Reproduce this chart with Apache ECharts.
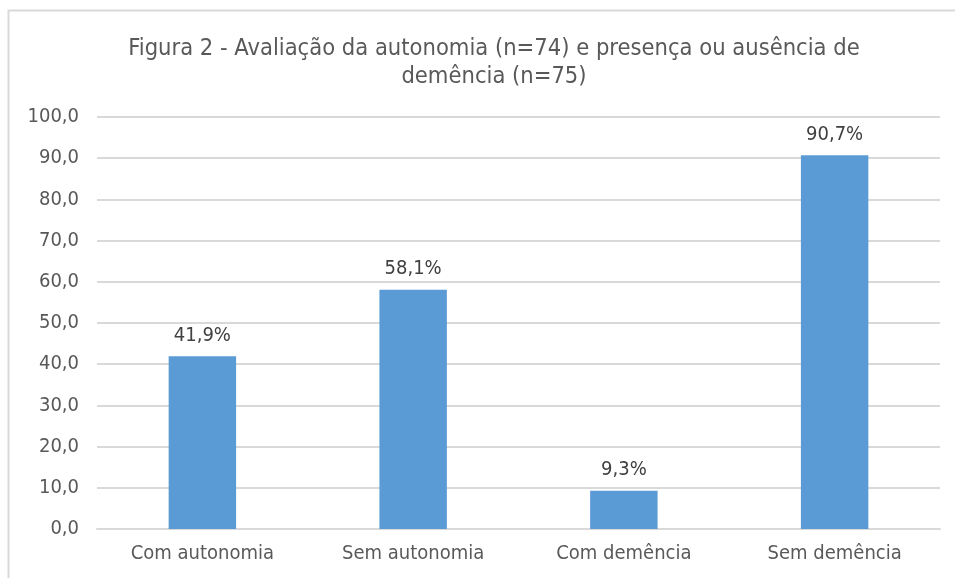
<!DOCTYPE html>
<html>
<head>
<meta charset="utf-8">
<script src="https://cdn.jsdelivr.net/npm/echarts@6/dist/echarts.min.js"></script>
<style>
  html, body { margin: 0; padding: 0; background: #fff; }
  #chart { width: 955px; height: 578px; }
</style>
</head>
<body>
<div id="chart"></div>
<script>
const categories = ['Com autonomia', 'Sem autonomia', 'Com demência', 'Sem demência'];
const values = [41.9, 58.1, 9.3, 90.7];
const titleText = 'Figura 2 - Avaliação da autonomia (n=74) e presença ou ausência de\ndemência (n=75)';

const font = '"DejaVu Sans Condensed", "DejaVu Sans", sans-serif';
const chart = echarts.init(document.getElementById('chart'));

chart.setOption({
  animation: false,
  title: {
    text: titleText,
    left: 489,
    top: 30,
    textAlign: 'center',
    textStyle: { fontFamily: font, fontSize: 23.5, fontWeight: 'normal', color: '#595959', lineHeight: 28 }
  },
  graphic: [{
    type: 'rect',
    shape: { x: 8.5, y: 10.5, width: 960, height: 600 },
    style: { fill: 'none', stroke: '#d9d9d9', lineWidth: 2 },
    silent: true
  }],
  grid: { left: 97, right: 15, top: 117, bottom: 49 },
  xAxis: {
    type: 'category',
    data: categories,
    axisLine: { lineStyle: { color: '#d9d9d9', width: 2 } },
    axisTick: { show: false },
    axisLabel: { fontFamily: font, fontSize: 20, color: '#595959', margin: 15 }
  },
  yAxis: {
    type: 'value',
    min: 0,
    max: 100,
    interval: 10,
    axisLine: { show: false },
    axisTick: { show: false },
    splitLine: { lineStyle: { color: '#d9d9d9', width: 2 } },
    axisLabel: {
      fontFamily: font, fontSize: 20, color: '#595959', margin: 18,
      formatter: v => v.toFixed(1).replace('.', ',')
    }
  },
  series: [{
    type: 'bar',
    data: values,
    barWidth: '32%',
    itemStyle: { color: '#5b9bd5' },
    label: {
      show: true,
      position: 'top',
      distance: 11,
      fontFamily: font,
      fontSize: 20,
      color: '#404040',
      formatter: p => p.value.toFixed(1).replace('.', ',') + '%'
    }
  }]
});
</script>
</body>
</html>
